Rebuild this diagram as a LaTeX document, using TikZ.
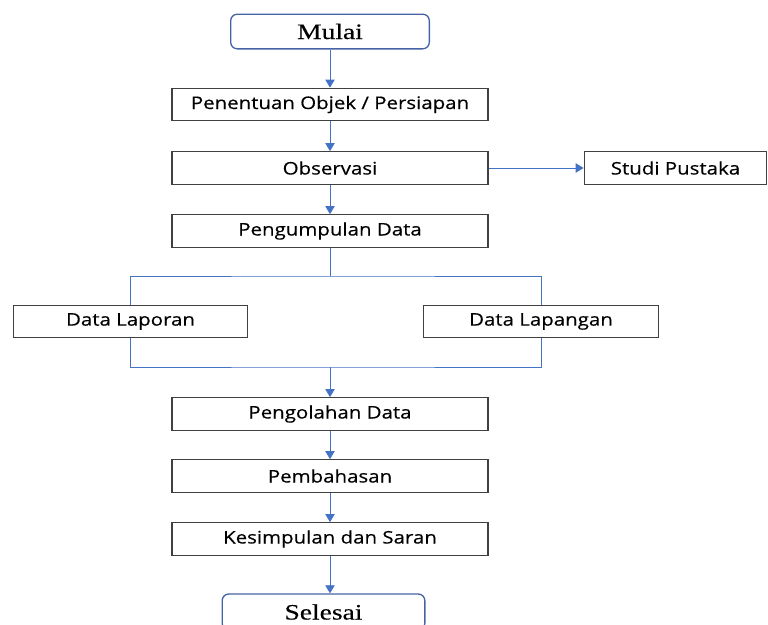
\documentclass[tikz,border=0pt]{standalone}
\usepackage{fontspec}
\setmainfont{Open Sans}[FakeStretch=1.18,FakeBold=0.4]
\newfontfamily\serifface{Liberation Serif}[FakeStretch=1.25,FakeBold=0.3]
\usepackage{xcolor}
\usetikzlibrary{arrows.meta,positioning}
\definecolor{linkblue}{RGB}{68,114,196}
\definecolor{termblue}{RGB}{70,100,165}

\begin{document}
\begin{tikzpicture}[x=0.75pt,y=-0.75pt,>={Triangle[length=6pt,width=7pt]},
        box/.style={draw=black!75,line width=0.8pt,minimum width=237pt,minimum height=24.5pt,inner sep=0pt,font=\fontsize{13}{15}\selectfont},
        terminal/.style={draw=termblue,line width=1pt,rounded corners=5pt,minimum width=149pt,minimum height=26pt,inner sep=0pt,font=\serifface\fontsize{16.5}{18}\selectfont},
        link/.style={linkblue,line width=0.6pt}]
        \clip (0,0) rectangle (768,625);
        \useasboundingbox (0,0) rectangle (768,625);
        \node[terminal] (mulai) at (330,31.5) {Mulai};
        \node[box] (tentu) at (330,104.5) {Penentuan Objek / Persiapan};
        \node[box] (obs) at (330,168) {Observasi};
        \node[box,minimum width=137pt] (studi) at (675.5,168) {Studi Pustaka};
        \node[box] (kumpul) at (330,231) {Pengumpulan Data};
        \node[box,minimum width=176pt] (lapor) at (130.5,321.5) {Data Laporan};
        \node[box,minimum width=176pt] (lapang) at (541,321.5) {Data Lapangan};
        \node[box] (olah) at (330,414) {Pengolahan Data};
        \node[box] (bahas) at (330,476) {Pembahasan};
        \node[box] (simpul) at (330,539) {Kesimpulan dan Saran};
        \node[terminal,minimum width=152pt,minimum height=27pt] (selesai) at (323.5,612) {Selesai};
        \coordinate (split) at (330,276);
        \coordinate (merge) at (330,367);
        \path[link,->] (mulai) edge (tentu)
                (tentu) edge (obs)
                (obs) edge (studi)
                (obs) edge (kumpul)
                (olah) edge (bahas)
                (bahas) edge (simpul);
        \draw[link,->] (merge) -- (olah.north);
        \draw[link,->] (simpul.south) -- (selesai.north -| simpul.south);
        \draw[link] (kumpul) -- (split);
        \draw[link] (lapor.north) |- (split) -| (lapang.north);
        \draw[link] (lapor.south) |- (merge) -| (lapang.south);
    \end{tikzpicture}
\end{document}
